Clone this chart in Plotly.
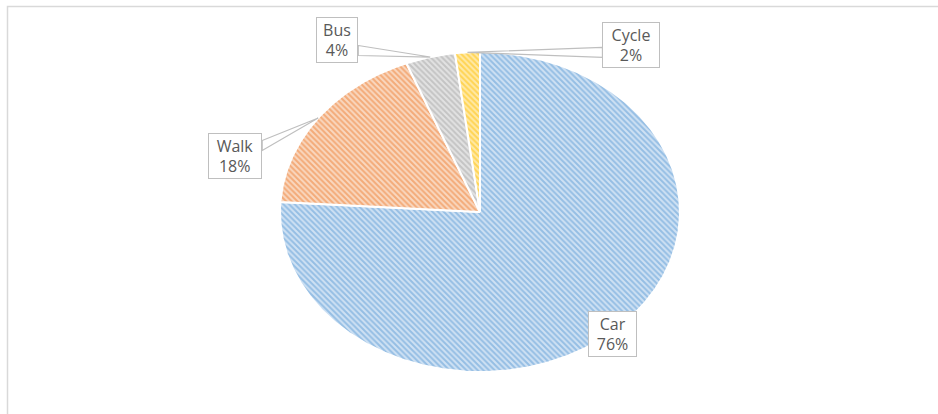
import numpy as np
import plotly.graph_objects as go

# Share of trips by travel mode (%)
modes = ["Car", "Walk", "Bus", "Cycle"]
shares = [76, 18, 4, 2]

# Hatched fill styling per mode: (line colour, background colour)
hatch = {
    "Car": ("#5B9BD5", "#CFE1F3"),
    "Walk": ("#ED7D31", "#F9D8C0"),
    "Bus": ("#A5A5A5", "#E2E2E2"),
    "Cycle": ("#FFC000", "#FFE9A8"),
}

# Figure geometry (pixels)
W, H = 938, 414
CX, CY = 480, 212      # centre of the elliptical pie
RX, RY = 200, 160      # horizontal / vertical radii

# Callout box inner sizes and offsets from each slice's outer mid-point (px)
box_w = {"Car": 41, "Walk": 46, "Bus": 34, "Cycle": 50}
box_h = 38
box_pad = 3
label_offset = {"Car": (-4, 5), "Walk": (-83, 38.5), "Bus": (-93, -17.5), "Cycle": (164, -7)}

text_grey = "#595959"
border_grey = "#BFBFBF"


def to_data(px, py):
    return (px - CX) / RX, (CY - py) / RY


def edge_px(theta):
    # theta measured clockwise from 12 o'clock, in radians
    return CX + RX * np.sin(theta), CY - RY * np.cos(theta)


fig = go.Figure()

total = float(sum(shares))
start = 0.0
shapes = []
annotations = []
for mode, val in zip(modes, shares):
    frac = val / total
    a0, a1 = start, start + frac * 2 * np.pi
    start = a1
    th = np.linspace(a0, a1, max(8, int(np.degrees(a1 - a0) * 2)))
    xs = np.concatenate([[0.0], np.sin(th), [0.0]])
    ys = np.concatenate([[0.0], np.cos(th), [0.0]])
    fg, bg = hatch[mode]
    fig.add_trace(go.Scatter(
        x=xs, y=ys, mode="lines", fill="toself",
        line=dict(color="white", width=2),
        fillcolor=bg,
        fillpattern=dict(shape="\\", fgcolor=fg, bgcolor=bg, size=4, solidity=0.5),
        name=mode, hoverinfo="name", showlegend=False,
    ))

    # callout box
    mid = (a0 + a1) / 2
    tx, ty = edge_px(mid)
    ox, oy = label_offset[mode]
    bx, by = tx + ox, ty + oy
    full_w = box_w[mode] + 2 * (box_pad + 1)
    full_h = box_h + 2 * (box_pad + 1)
    left, right = bx - full_w / 2, bx + full_w / 2
    top, bottom = by - full_h / 2, by + full_h / 2

    # pointer from the box to the slice edge when the edge lies outside the box
    if not (left <= tx <= right and top <= ty <= bottom):
        side_x = right if tx > right else left
        base_y = min(max(ty, top + 12), bottom - 12)
        p1 = to_data(side_x, base_y - 5)
        p2 = to_data(side_x, base_y + 5)
        tip = to_data(tx, ty)
        shapes.append(dict(
            type="path", xref="x", yref="y", layer="above",
            path=f"M {p1[0]},{p1[1]} L {tip[0]},{tip[1]} L {p2[0]},{p2[1]} Z",
            line=dict(color=border_grey, width=1.2), fillcolor="white",
        ))

    cx_d, cy_d = to_data(bx, by)
    pct = round(val / total * 100)
    annotations.append(dict(
        x=cx_d, y=cy_d, xref="x", yref="y", xanchor="center", yanchor="middle",
        text=f"{mode}<br>{pct}%", showarrow=False,
        font=dict(family="Open Sans", size=16, color=text_grey),
        align="center", bgcolor="white", bordercolor=border_grey,
        borderwidth=1, borderpad=box_pad, width=box_w[mode], height=box_h,
    ))

# chart-area frame (top and left edges visible)
shapes.append(dict(
    type="rect", xref="paper", yref="paper",
    x0=7.5 / W, x1=1.05, y0=-0.05, y1=1 - 6.5 / H,
    line=dict(color="#D9D9D9", width=1.5), fillcolor="rgba(0,0,0,0)", layer="below",
))

fig.update_layout(
    width=W, height=H, autosize=False,
    margin=dict(l=0, r=0, t=0, b=0),
    paper_bgcolor="white", plot_bgcolor="white",
    xaxis=dict(range=[(0 - CX) / RX, (W - CX) / RX], visible=False, fixedrange=True),
    yaxis=dict(range=[(CY - H) / RY, CY / RY], visible=False, fixedrange=True),
    shapes=shapes, annotations=annotations,
    showlegend=False, dragmode=False,
)

fig.write_html("out.html")
